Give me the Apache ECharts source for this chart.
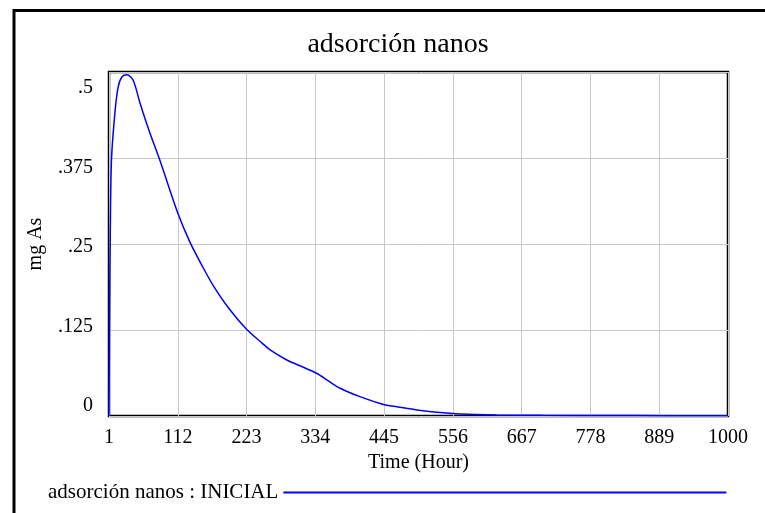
<!DOCTYPE html>
<html>
<head>
<meta charset="utf-8">
<script src="https://cdn.jsdelivr.net/npm/echarts@6/dist/echarts.min.js"></script>
<style>
html,body{margin:0;padding:0;background:#fff;}
#chart{width:765px;height:513px;}
</style>
</head>
<body>
<div id="chart"></div>
<script>
// ---- data ----
var titleText = 'adsorción nanos';
var seriesName = 'adsorción nanos : INICIAL';
var xName = 'Time (Hour)';
var yName = 'mg As';
var time = [1, 2, 3, 5, 11, 16, 22, 30, 40, 51, 66, 83, 112, 132, 153, 169, 194, 223, 248, 261, 288, 310, 336, 355, 374, 406, 444, 471, 498, 530, 568, 627, 700, 800, 900, 1000];
var value = [0, 0.16, 0.26, 0.372, 0.445, 0.479, 0.493, 0.496, 0.488, 0.455, 0.414, 0.372, 0.295, 0.252, 0.2155, 0.19, 0.157, 0.126, 0.106, 0.096, 0.0814, 0.0727, 0.0621, 0.051, 0.0403, 0.0281, 0.0168, 0.0126, 0.0087, 0.0054, 0.0029, 0.0015, 0.001, 0.0007, 0.0005, 0.0004];
var yTickLabels = {'0': '0', '0.125': '.125', '0.25': '.25', '0.375': '.375', '0.5': '.5'};

var FONT = "'Liberation Serif','Times New Roman',serif";
var chart = echarts.init(document.getElementById('chart'), null, {renderer: 'canvas'});
var data = time.map(function (t, i) { return [t, value[i]]; });

var option = {
  backgroundColor: '#fff',
  animation: false,
  title: {
    text: titleText,
    left: 398, top: 31, padding: 0, textAlign: 'center',
    textStyle: {fontFamily: FONT, fontSize: 28, fontWeight: 'normal', color: '#000'}
  },
  legend: {
    left: 48, top: 482, padding: 0,
    align: 'right',
    icon: 'rect', itemWidth: 443, itemHeight: 2,
    textStyle: {fontFamily: FONT, fontSize: 21, color: '#000'},
    data: [seriesName]
  },
  graphic: [{
    type: 'rect', silent: true,
    shape: {x: 14, y: 10.5, width: 800, height: 600},
    style: {fill: 'none', stroke: '#000', lineWidth: 3}, z: -1
  }],
  grid: [
    {left: 109, top: 72, width: 619, height: 344, show: true, borderColor: '#000', borderWidth: 2.5, backgroundColor: '#fff', containLabel: false},
    {left: 109, top: 88, width: 619, height: 318, show: false, containLabel: false}
  ],
  xAxis: [{
    gridIndex: 0, type: 'value', min: 1, max: 1000, interval: 111,
    name: xName, nameLocation: 'middle', nameGap: 36,
    nameTextStyle: {fontFamily: FONT, fontSize: 20, color: '#000'},
    axisLine: {show: false}, axisTick: {show: false},
    axisLabel: {fontFamily: FONT, fontSize: 20, color: '#000', margin: 12, showMinLabel: true, showMaxLabel: true,
      formatter: function (v) { return String(Math.round(v)); }},
    splitLine: {show: true, lineStyle: {color: '#c8c8c8', width: 1}}
  }, {
    gridIndex: 1, type: 'value', min: 0, max: 1, show: false
  }],
  yAxis: [{
    gridIndex: 0, type: 'value', min: 0, max: 0.5, interval: 0.125,
    name: yName, nameLocation: 'middle', nameGap: 63, nameRotate: 90,
    nameTextStyle: {fontFamily: FONT, fontSize: 20, color: '#000'},
    axisLine: {show: false}, axisTick: {show: false},
    axisLabel: {show: false},
    splitLine: {show: true, lineStyle: {color: '#c8c8c8', width: 1}}
  }, {
    gridIndex: 1, type: 'value', min: 0, max: 0.5, interval: 0.125,
    axisLine: {show: false}, axisTick: {show: false}, splitLine: {show: false},
    axisLabel: {
      fontFamily: FONT, fontSize: 20, color: '#000', margin: 16,
      formatter: function (v) { var k = String(+v.toFixed(3)); return yTickLabels[k] !== undefined ? yTickLabels[k] : k; }
    }
  }],
  series: [{
    name: seriesName, type: 'line', xAxisIndex: 0, yAxisIndex: 0,
    data: data, showSymbol: false, symbol: 'none',
    smooth: 0.3,
    itemStyle: {color: '#0000ff'},
    lineStyle: {color: '#0000ff', width: 1.5}, z: 5
  }]
};
chart.setOption(option);
</script>
</body>
</html>
